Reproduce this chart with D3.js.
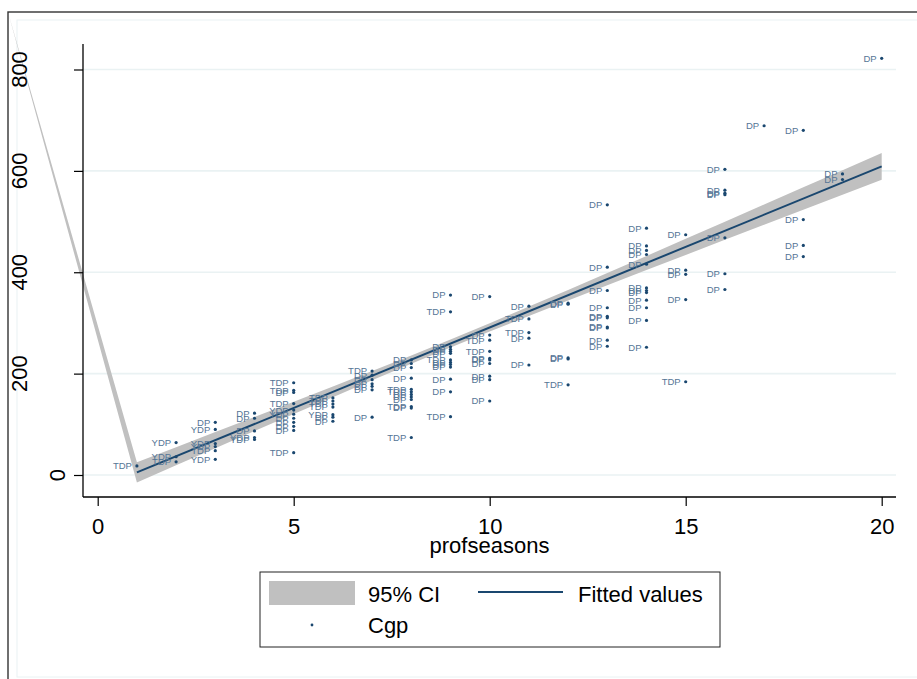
<!DOCTYPE html>
<html lang="en">
  <head>
    <meta charset="utf-8" />
    <title>Cgp vs profseasons</title>
    <style>
      body { margin: 0; background: #fff; }
      svg { display: block; font-family: "Liberation Sans", Arial, sans-serif; }
    </style>
  </head>
  <body>
    <div id="graph-display"></div>

    <script src="https://d3js.org/d3.v7.min.js"></script>
    <script>
      // scatter points: profseasons, Cgp, marker label
      const seasons = [
        1,
        2, 2, 2,
        3, 3, 3, 3, 3, 3,
        4, 4, 4, 4, 4,
        5, 5, 5, 5, 5, 5, 5, 5, 5, 5, 5,
        6, 6, 6, 6, 6, 6, 6,
        7, 7, 7, 7, 7, 7, 7,
        8, 8, 8, 8, 8, 8, 8, 8, 8, 8, 8, 8,
        9, 9, 9, 9, 9, 9, 9, 9, 9, 9, 9, 9, 9,
        10, 10, 10, 10, 10, 10, 10, 10, 10, 10,
        11, 11, 11, 11, 11,
        12, 12, 12, 12, 12,
        13, 13, 13, 13, 13, 13, 13, 13, 13, 13,
        14, 14, 14, 14, 14, 14, 14, 14, 14, 14, 14, 14,
        15, 15, 15, 15, 15,
        16, 16, 16, 16, 16, 16, 16,
        17,
        18, 18, 18, 18,
        19, 19,
        20
      ];
      const cgp = [
        18,
        64, 36, 26,
        104, 90, 62, 56, 48, 31,
        122, 112, 87, 74, 70,
        182, 167, 163, 141, 128, 120, 112, 104, 96, 88, 44,
        152, 146, 140, 134, 119, 114, 106,
        205, 197, 188, 180, 175, 168, 114,
        227, 220, 212, 191, 169, 164, 159, 154, 149, 135, 132, 74,
        355, 322, 253, 248, 244, 240, 227, 222, 218, 213, 189, 164, 115,
        352, 276, 266, 244, 230, 227, 220, 195, 188, 146,
        333, 308, 281, 270, 217,
        339, 337, 231, 229, 178,
        533, 410, 364, 330, 313, 310, 292, 290, 266, 254,
        487, 452, 443, 435, 416, 369, 364, 360, 345, 330, 305, 252,
        474, 404, 396, 346, 184,
        603, 562, 556, 553, 468, 397, 366,
        689,
        680, 504, 453, 431,
        594, 583,
        822
      ];
      const posLabel = [
        "TDP",
        "YDP", "YDP", "TDP",
        "DP", "YDP", "YDP", "YDP", "TDP", "YDP",
        "DP", "DP", "DP", "YDP", "YDP",
        "TDP", "TDP", "DP", "TDP", "YDP", "YDP", "DP", "DP", "DP", "DP", "TDP",
        "TDP", "TDP", "TDP", "TDP", "YDP", "DP", "DP",
        "TDP", "DP", "DP", "DP", "DP", "DP", "DP",
        "DP", "DP", "DP", "DP", "TDP", "TDP", "DP", "DP", "DP", "TDP", "DP", "TDP",
        "DP", "TDP", "DP", "DP", "DP", "DP", "TDP", "DP", "DP", "DP", "DP", "DP", "TDP",
        "DP", "DP", "TDP", "TDP", "DP", "DP", "DP", "DP", "DP", "DP",
        "DP", "TDP", "TDP", "DP", "DP",
        "DP", "DP", "DP", "DP", "TDP",
        "DP", "DP", "DP", "DP", "DP", "DP", "DP", "DP", "DP", "DP",
        "DP", "DP", "DP", "DP", "DP", "DP", "DP", "DP", "DP", "DP", "DP", "DP",
        "DP", "DP", "DP", "DP", "TDP",
        "DP", "DP", "DP", "DP", "DP", "DP", "DP",
        "DP",
        "DP", "DP", "DP", "DP",
        "DP", "DP",
        "DP"
      ];

      // fitted line and 95% CI
      const fitX = [1, 20];
      const fitY = [5.3, 608.9];
      const ciX = [1, 2, 3, 4, 5, 6, 7, 8, 9, 10, 11, 12, 13, 14, 15, 16, 17, 18, 19, 20];
      const ciLow = [-14.7, 19.1, 52.9, 86.6, 120.2, 153.6, 186.7, 219.4, 251.4, 282.9,
                     313.8, 344.2, 374.3, 404.3, 434.2, 463.9, 493.6, 523.3, 552.9, 582.5];
      const ciHigh = [25.3, 54.9, 84.7, 114.6, 144.6, 174.6, 205.1, 236.0, 267.4, 299.5,
                      332.2, 365.2, 398.7, 432.3, 466.0, 499.7, 533.6, 567.5, 601.3, 635.3];

      const xTicks = [0, 5, 10, 15, 20];
      const yTicks = [0, 200, 400, 600, 800];
      const xTitle = "profseasons";
      const legendItems = ["95% CI", "Fitted values", "Cgp"];

      const navy = "#1a476f";

      const initGraph = (width, height) => {
        const frame = { x: 8, y: 12 };
        const plot = { left: 83, right: 896, top: 44, bottom: 497 };

        const xScale = d3.scaleLinear().domain([0, 20]).range([97.7, 881.7]);
        const yScale = d3.scaleLinear().domain([0, 800]).range([475, 69.5]);

        const svg = d3.select("#graph-display")
          .append("svg")
          .attr("width", width)
          .attr("height", height);

        // outer graph frame + light inner border
        svg.append("rect")
          .attr("x", frame.x).attr("y", frame.y)
          .attr("width", 940).attr("height", 700)
          .attr("fill", "#fff")
          .attr("stroke", "#333").attr("stroke-width", 1.4);
        svg.append("rect")
          .attr("x", 17).attr("y", 20)
          .attr("width", 940).attr("height", 657)
          .attr("fill", "none")
          .attr("stroke", "#eaf2f3").attr("stroke-width", 1);

        // gridlines
        svg.append("g")
          .selectAll("line")
          .data(yTicks)
          .join("line")
          .attr("x1", plot.left).attr("x2", plot.right)
          .attr("y1", d => yScale(d)).attr("y2", d => yScale(d))
          .attr("stroke", "#eaf2f3").attr("stroke-width", 1.6);

        // CI band (its path starts from the frame corner, as in the original)
        const upper = ciX.map((v, i) => [xScale(v), yScale(ciHigh[i])]);
        const lower = ciX.map((v, i) => [xScale(v), yScale(ciLow[i])]).reverse();
        const band = [[frame.x, frame.y]].concat(upper, lower);
        svg.append("path")
          .attr("d", d3.line()(band) + "Z")
          .attr("fill", "#c0c0c0")
          .attr("stroke", "none");

        // axes
        const xAxis = svg.append("g")
          .attr("transform", `translate(0,${plot.bottom})`)
          .call(d3.axisBottom(xScale).tickValues(xTicks).tickSize(9).tickPadding(12));
        xAxis.select(".domain").remove();
        xAxis.selectAll("line").attr("stroke", "#000").attr("stroke-width", 1.2);
        xAxis.selectAll("text")
          .attr("font-size", 22)
          .attr("font-family", "Liberation Sans, Arial, sans-serif")
          .attr("fill", "#000");

        const yAxis = svg.append("g")
          .attr("transform", `translate(${plot.left},0)`)
          .call(d3.axisLeft(yScale).tickValues(yTicks).tickSize(9));
        yAxis.select(".domain").remove();
        yAxis.selectAll("line").attr("stroke", "#000").attr("stroke-width", 1.2);
        yAxis.selectAll("text").remove();

        // rotated y labels; the short "0" sits closer to the axis
        svg.append("g")
          .selectAll("text")
          .data(yTicks)
          .join("text")
          .attr("transform", d => {
            const bx = d === 0 ? 65 : 27;
            return `translate(${bx},${yScale(d)}) rotate(-90)`;
          })
          .attr("text-anchor", "middle")
          .attr("font-size", 22)
          .attr("fill", "#000")
          .text(d => d);

        svg.append("line")
          .attr("x1", plot.left).attr("x2", plot.left)
          .attr("y1", plot.top).attr("y2", plot.bottom)
          .attr("stroke", "#000").attr("stroke-width", 1.3);
        svg.append("line")
          .attr("x1", plot.left).attr("x2", plot.right)
          .attr("y1", plot.bottom).attr("y2", plot.bottom)
          .attr("stroke", "#000").attr("stroke-width", 1.3);

        svg.append("text")
          .attr("x", (plot.left + plot.right) / 2)
          .attr("y", 553)
          .attr("text-anchor", "middle")
          .attr("font-size", 22)
          .text(xTitle);

        // fitted line
        svg.append("path")
          .attr("d", d3.line()(fitX.map((v, i) => [xScale(v), yScale(fitY[i])])))
          .attr("stroke", navy)
          .attr("stroke-width", 2)
          .attr("fill", "none");

        // scatter + labels
        const pts = svg.append("g");
        pts.selectAll("circle")
          .data(seasons)
          .join("circle")
          .attr("cx", d => xScale(d))
          .attr("cy", (d, i) => yScale(cgp[i]))
          .attr("r", 1.6)
          .attr("fill", navy);
        pts.selectAll("text")
          .data(seasons)
          .join("text")
          .attr("x", d => xScale(d) - 5)
          .attr("y", (d, i) => yScale(cgp[i]) + 3.4)
          .attr("text-anchor", "end")
          .attr("font-size", 9.5)
          .attr("fill", "#557696")
          .text((d, i) => posLabel[i]);

        // legend
        const lg = svg.append("g");
        lg.append("rect")
          .attr("x", 260).attr("y", 572)
          .attr("width", 460).attr("height", 75)
          .attr("fill", "#fff")
          .attr("stroke", "#222").attr("stroke-width", 1);
        lg.append("rect")
          .attr("x", 269).attr("y", 581)
          .attr("width", 86).attr("height", 24)
          .attr("fill", "#c0c0c0");
        lg.append("line")
          .attr("x1", 478).attr("x2", 563)
          .attr("y1", 592).attr("y2", 592)
          .attr("stroke", navy).attr("stroke-width", 2);
        lg.append("circle")
          .attr("cx", 312).attr("cy", 625).attr("r", 1.4)
          .attr("fill", navy);
        lg.selectAll("text")
          .data(legendItems)
          .join("text")
          .attr("x", (d, i) => (i === 1 ? 578 : 368))
          .attr("y", (d, i) => (i === 2 ? 633 : 602))
          .attr("font-size", 22)
          .text(d => d);
      };

      initGraph(917, 679);
    </script>
  </body>
</html>
